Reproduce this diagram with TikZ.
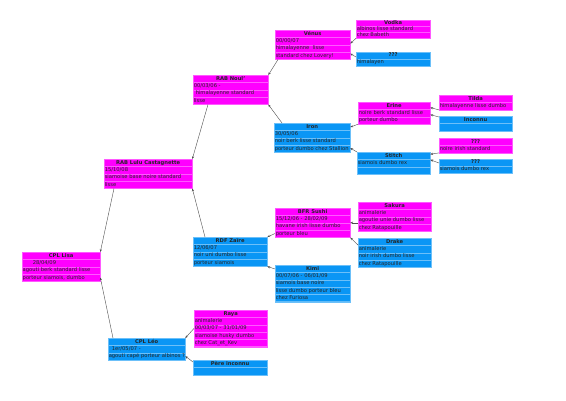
\documentclass[tikz,border=0pt]{standalone}
\usepackage{fontspec}
\setmainfont{DejaVu Sans}
\usetikzlibrary{shapes.multipart,arrows.meta,calc}
\definecolor{femc}{RGB}{255,0,255}
\definecolor{malc}{RGB}{10,150,245}
\newlength\bw \newlength\rh
\setlength\bw{74pt}\setlength\rh{7pt}
\newcommand\Ttl[1]{\makebox[\bw][c]{\bfseries #1}\rule[-0.3\rh]{0pt}{\rh}}
\newcommand\Rw[1]{\makebox[\bw][l]{#1}\rule[-0.3\rh]{0pt}{\rh}}
\tikzset{
  bw/.code={\global\bw=\dimexpr#1-1.2pt\relax},
  rh/.code={\global\rh=#1},
  pbox/.style={rectangle split, rectangle split parts=#1, anchor=north west,
    inner xsep=0.6pt, inner ysep=0pt, line width=0.3pt,
    font=\fontsize{5.2}{7}\selectfont, text=black!85, bw=75pt, rh=7pt},
  femb/.style={pbox=#1, fill=femc, draw=femc!65!white},
  malb/.style={pbox=#1, fill=malc, draw=malc!60!white},
  con/.style={draw=black!70, line width=0.4pt, -{Stealth[length=2.8pt,width=2.2pt]}}
}
\begin{document}
\begin{tikzpicture}[x=1pt,y=-1pt]
\useasboundingbox (0,0) rectangle (566,400);
% generation 1
\node[femb=4,bw=78pt] (lisa) at (22,252) {\Ttl{CPL Lisa}\nodepart{two}\Rw{\hspace*{10pt}28/04/09}\nodepart{three}\Rw{agouti berk standard lisse}\nodepart{four}\Rw{porteur siamois, dumbo}};
% generation 2
\node[femb=4,bw=88pt] (lulu) at (104,159) {\Ttl{RAB Lulu Castagnette}\nodepart{two}\Rw{15/10/08}\nodepart{three}\Rw{siamoise base noire standard}\nodepart{four}\Rw{lisse}};
\node[malb=3,bw=77pt] (leo) at (108,338) {\Ttl{CPL Léo}\nodepart{two}\Rw{\hspace*{3pt}1er/05/07 -}\nodepart{three}\Rw{agouti capé porteur albinos ?}};
% generation 3
\node[femb=4] (noul) at (193,75) {\Ttl{RAB Noul'}\nodepart{two}\Rw{00/03/06 -}\nodepart{three}\Rw{\hspace*{2pt}himalayenne standard}\nodepart{four}\Rw{lisse}};
\node[malb=4,bw=74pt] (zaire) at (193,237) {\Ttl{RDF Zaïre}\nodepart{two}\Rw{12/06/07}\nodepart{three}\Rw{noir uni dumbo lisse}\nodepart{four}\Rw{porteur siamois}};
\node[femb=5,bw=73pt] (raya) at (194,310) {\Ttl{Raya}\nodepart{two}\Rw{animalerie}\nodepart{three}\Rw{00/03/07 - 31/01/09}\nodepart{four}\Rw{siamoise husky dumbo}\nodepart{five}\Rw{chez Cat\_et\_Kev}};
\node[malb=2,bw=74pt] (pere) at (193,360) {\Ttl{Père inconnu}\nodepart{two}\Rw{}};
% generation 4
\node[femb=4] (venus) at (275,30) {\Ttl{Vénus}\nodepart{two}\Rw{00/00/07}\nodepart{three}\Rw{himalayenne\ \ lisse}\nodepart{four}\Rw{standard chez Lovery!}};
\node[malb=4,bw=76pt] (iron) at (274,123) {\Ttl{Iron}\nodepart{two}\Rw{30/05/06}\nodepart{three}\Rw{noir berk lisse standard}\nodepart{four}\Rw{porteur dumbo chez Stallion}};
\node[femb=4] (sushi) at (275,208) {\Ttl{BFR Sushi}\nodepart{two}\Rw{15/12/06 - 28/02/09}\nodepart{three}\Rw{havane irish lisse dumbo}\nodepart{four}\Rw{porteur bleu}};
\node[malb=5] (kimi) at (275,265) {\Ttl{Kimi}\nodepart{two}\Rw{00/07/06 - 06/01/09}\nodepart{three}\Rw{siamois base noire}\nodepart{four}\Rw{lisse dumbo porteur bleu}\nodepart{five}\Rw{chez Furiosa}};
% generation 5
\node[femb=3,bw=74pt,rh=5.7pt] (vodka) at (356,20) {\Ttl{Vodka}\nodepart{two}\Rw{albinos lisse standard}\nodepart{three}\Rw{chez Babeth}};
\node[malb=2,bw=74pt,rh=6.5pt] (qa) at (356,52) {\Ttl{???}\nodepart{two}\Rw{himalayen}};
\node[femb=3,bw=72pt] (erine) at (358,102) {\Ttl{Erine}\nodepart{two}\Rw{noire berk standard lisse}\nodepart{three}\Rw{porteur dumbo}};
\node[malb=3,bw=73pt] (stitch) at (357,152) {\Ttl{Stitch}\nodepart{two}\Rw{siamois dumbo rex}\nodepart{three}\Rw{}};
\node[femb=4,bw=73pt] (sakura) at (358,202) {\Ttl{Sakura}\nodepart{two}\Rw{animalerie}\nodepart{three}\Rw{agoutie unie dumbo lisse}\nodepart{four}\Rw{chez Ratapouille}};
\node[malb=4,bw=73pt] (drake) at (358,238) {\Ttl{Drake}\nodepart{two}\Rw{animalerie}\nodepart{three}\Rw{noir irish dumbo lisse}\nodepart{four}\Rw{chez Ratapouille}};
% generation 6
\node[femb=2,bw=73pt] (tilda) at (439,95) {\Ttl{Tilda}\nodepart{two}\Rw{himalayenne lisse dumbo}};
\node[malb=2,bw=73pt] (inconnu) at (439,116) {\Ttl{Inconnu}\nodepart{two}\Rw{}};
\node[femb=2,bw=73pt] (qb) at (439,138) {\Ttl{???}\nodepart{two}\Rw{noire irish standard}};
\node[malb=2,bw=73pt,rh=6.5pt] (qc) at (439,159) {\Ttl{???}\nodepart{two}\Rw{siamois dumbo rex}};
% connectors
\draw[con] ([xshift=10pt]lulu.south west) -- (lisa.north east);
\draw[con] ([xshift=5pt]leo.north west) -- ([yshift=4pt]lisa.south east);
\draw[con] ([xshift=15pt]noul.south west) -- (lulu.north east);
\draw[con] ([xshift=12pt]zaire.north west) -- (lulu.south east);
\draw[con] ([xshift=3pt]venus.south west) -- (noul.north east);
\draw[con] ([xshift=8pt]iron.north west) -- (noul.south east);
\draw[con] (vodka.south west) -- ($(venus.north east)!0.46!(venus.south east)$);
\draw[con] ([yshift=-5pt]qa.north west) -- ($(venus.north east)!0.8!(venus.south east)$);
\draw[con] (erine.south west) -- ($(iron.north east)!0.14!(iron.south east)$);
\draw[con] (stitch.north west) -- ($(iron.north east)!0.85!(iron.south east)$);
\draw[con] (tilda.south west) -- ($(erine.north east)!0.25!(erine.south east)$);
\draw[con] ([yshift=-1pt]inconnu.north west) -- ($(erine.north east)!0.57!(erine.south east)$);
\draw[con] (qb.south west) -- ($(stitch.north east)!0.1!(stitch.south east)$);
\draw[con] ([yshift=-4pt]qc.north west) -- ($(stitch.north east)!0.35!(stitch.south east)$);
\draw[con] (sakura.west |- sushi.east) -- (sushi.east);
\draw[con] ([yshift=-7pt]drake.north west) -- (sushi.south east);
\draw[con] ([yshift=4pt]sushi.south west) -- (zaire.north east);
\draw[con] ([yshift=-4pt]kimi.north west) -- (zaire.south east);
\draw[con] (raya.west) -- (leo.north east);
\draw[con] ([yshift=-2pt]pere.north west) -- ([yshift=4pt]leo.south east);
\end{tikzpicture}
\end{document}
